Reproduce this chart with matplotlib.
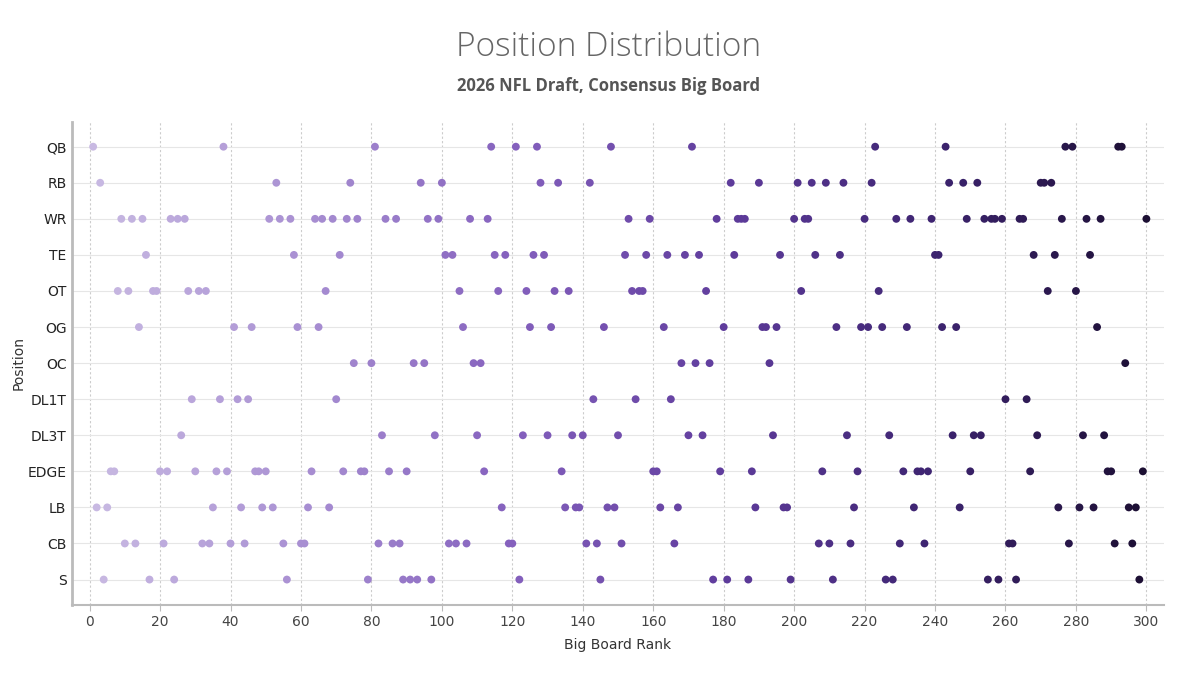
import matplotlib
matplotlib.use("Agg")
import matplotlib.pyplot as plt
from matplotlib.colors import LinearSegmentedColormap, Normalize

# big board ranks per position
positions = ["QB", "RB", "WR", "TE", "OT", "OG", "OC", "DL1T", "DL3T", "EDGE", "LB", "CB", "S"]

qb = [1, 38, 81, 114, 121, 127, 148, 171, 223, 243, 277, 279, 292, 293]
rb = [3, 53, 74, 94, 100, 128, 133, 142, 182, 190, 201, 205, 209, 214, 222, 244, 248, 252, 270, 271, 273]
wr = [9, 12, 15, 23, 25, 27, 51, 54, 57, 64, 66, 69, 73, 76, 84, 87, 96, 99, 108, 113, 153, 159, 178,
      184, 185, 186, 200, 203, 204, 220, 229, 233, 239, 249, 254, 256, 257, 259, 264, 265, 276, 283, 287, 300]
te = [16, 58, 71, 101, 103, 115, 118, 126, 129, 152, 158, 164, 169, 173, 183, 196, 206, 213, 240, 241, 268, 274, 284]
ot = [8, 11, 18, 19, 28, 31, 33, 67, 105, 116, 124, 132, 136, 154, 156, 157, 175, 202, 224, 272, 280]
og = [14, 41, 46, 59, 65, 106, 125, 131, 146, 163, 180, 191, 192, 195, 212, 219, 221, 225, 232, 242, 246, 286]
oc = [75, 80, 92, 95, 109, 111, 168, 172, 176, 193, 294]
dl1t = [29, 37, 42, 45, 70, 143, 155, 165, 260, 266]
dl3t = [26, 83, 98, 110, 123, 130, 137, 140, 150, 170, 174, 194, 215, 227, 245, 251, 253, 269, 282, 288]
edge = [6, 7, 20, 22, 30, 36, 39, 47, 48, 50, 63, 72, 77, 78, 85, 90, 112, 134, 160, 161, 179, 188,
        208, 218, 231, 235, 236, 238, 250, 267, 289, 290, 299]
lb = [2, 5, 35, 43, 49, 52, 62, 68, 117, 135, 138, 139, 147, 149, 162, 167, 189, 197, 198, 217, 234,
      247, 275, 281, 285, 295, 297]
cb = [10, 13, 21, 32, 34, 40, 44, 55, 60, 61, 82, 86, 88, 102, 104, 107, 119, 120, 141, 144, 151, 166,
      207, 210, 216, 230, 237, 261, 262, 278, 291, 296]
s = [4, 17, 24, 56, 79, 89, 91, 93, 97, 122, 145, 177, 181, 187, 199, 211, 226, 228, 255, 258, 263, 298]

ranks_by_pos = [qb, rb, wr, te, ot, og, oc, dl1t, dl3t, edge, lb, cb, s]

cmap = LinearSegmentedColormap.from_list(
    "board", ["#c8b9e2", "#a88fd2", "#8460bd", "#5f3c9c", "#3d2470", "#1c0f33"])
norm = Normalize(vmin=1, vmax=300)

fig = plt.figure(figsize=(12, 6.75), dpi=100)
ax = fig.add_axes([0.06, 0.104, 0.91, 0.715])

for i, (pos, ranks) in enumerate(zip(positions, ranks_by_pos)):
    ax.scatter(ranks, [pos] * len(ranks), c=ranks, cmap=cmap, norm=norm,
               s=32, linewidths=0, zorder=3)

ax.set_xlim(-5, 305)
ax.set_ylim(len(positions) - 0.3, -0.68)
ax.set_xticks(range(0, 301, 20))

ax.grid(axis="x", color="#cccccc", linestyle=(0, (2, 2)), linewidth=0.8, zorder=0)
ax.grid(axis="y", color="#e6e6e6", linestyle="-", linewidth=0.8, zorder=0)

for side in ["top", "right"]:
    ax.spines[side].set_visible(False)
ax.spines["left"].set_color("#bbbbbb")
ax.spines["left"].set_linewidth(2)
ax.spines["bottom"].set_color("#bbbbbb")
ax.spines["bottom"].set_linewidth(1.5)
ax.tick_params(axis="both", colors="#444444", labelsize=10, length=4, width=0.8)
ax.tick_params(axis="x", color="#bbbbbb", labelcolor="#444444")
ax.tick_params(axis="y", length=0, pad=4, labelcolor="#222222")

ax.set_xlabel("Big Board Rank", fontsize=10, color="#333333", labelpad=6)
ax.set_ylabel("Position", fontsize=10, color="#333333", labelpad=1)

fig.text(0.507, 0.93, "Position Distribution", ha="center", va="center",
         fontsize=24, family="Open Sans", fontweight="light", color="#666666")
fig.text(0.507, 0.872, "2026 NFL Draft, Consensus Big Board", ha="center", va="center",
         fontsize=12, family="Open Sans", fontweight="bold", color="#555555")

fig.savefig("out.png", dpi=100, facecolor="white")
